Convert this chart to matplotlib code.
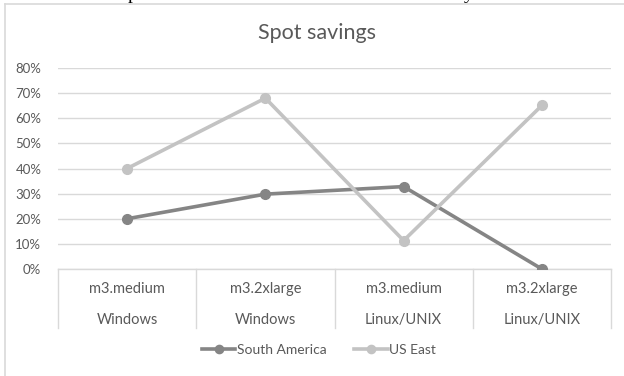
import numpy as np
import matplotlib.pyplot as plt
from matplotlib.lines import Line2D

# data
instances = ["m3.medium", "m3.2xlarge", "m3.medium", "m3.2xlarge"]
systems = ["Windows", "Windows", "Linux/UNIX", "Linux/UNIX"]
south_america = [0.20, 0.298, 0.328, 0.0]
us_east = [0.40, 0.68, 0.113, 0.651]
yticks = [0.0, 0.1, 0.2, 0.3, 0.4, 0.5, 0.6, 0.7, 0.8]

W, H = 624, 376
txt = "#595959"
grid = "#d9d9d9"
c_sa = "#858585"
c_us = "#c3c3c3"
font = ["Lato", "DejaVu Sans"]
plt.rcParams['font.family'] = font

fig = plt.figure(figsize=(W/100, H/100), dpi=100)

# chart frame (left and top edges visible)
fig.add_artist(Line2D([5/W, 5/W], [0, 1 - 4/H], color="#d9d9d9", lw=1.2))
fig.add_artist(Line2D([5/W, 1], [1 - 4/H, 1 - 4/H], color="#d9d9d9", lw=1.2))

# fragments of the document caption above the chart
fig.text(128/W, 1 + 1/H, "p", family="Liberation Serif", fontsize=14, color="black", va="baseline")
fig.text(464/W, 1 + 1/H, "y", family="Liberation Serif", fontsize=14, color="black", va="baseline")

ax = fig.add_axes([58/W, (H - 269)/H, 553/W, 201/H])
x = np.arange(len(instances))

ax.plot(x, south_america, "-o", color=c_sa, lw=2.6, ms=7, label="South America", zorder=3)
ax.plot(x, us_east, "-o", color=c_us, lw=2.6, ms=7, label="US East", zorder=3)

ax.set_xlim(-0.5, len(instances) - 0.5)
ax.set_ylim(0, 0.8)
ax.set_yticks(yticks)
ax.set_yticklabels([f"{int(round(v*100))}%" for v in yticks])
ax.tick_params(axis="y", length=0, pad=12, labelsize=9.5, labelcolor=txt)
ax.set_xticks([])
ax.grid(axis="y", color=grid, lw=1)
ax.set_axisbelow(True)
for s in ax.spines.values():
    s.set_visible(False)

# category boxes
tr = ax.get_xaxis_transform()
ax.plot([-0.5, len(instances) - 0.5], [0, 0], color=grid, lw=1, transform=tr, clip_on=False)
for b in np.arange(len(instances) + 1) - 0.5:
    ax.plot([b, b], [0, -59/201], color=grid, lw=1, transform=tr, clip_on=False)
for i in range(len(instances)):
    ax.text(i, -20/201, instances[i], transform=tr, ha="center", va="center", fontsize=10.5, color=txt)
    ax.text(i, -51/201, systems[i], transform=tr, ha="center", va="center", fontsize=10.5, color=txt)

fig.text(317/W, 1 - 33/H, "Spot savings", fontsize=15.5, color=txt, ha="center", va="center")

fig.legend(loc="center", bbox_to_anchor=(319/W, 1 - 350/H), ncol=2, frameon=False,
           fontsize=10, labelcolor=txt, handlelength=2.4, handletextpad=0.1,
           columnspacing=2.0, markerscale=0.85)

fig.savefig("out.png", dpi=100)
